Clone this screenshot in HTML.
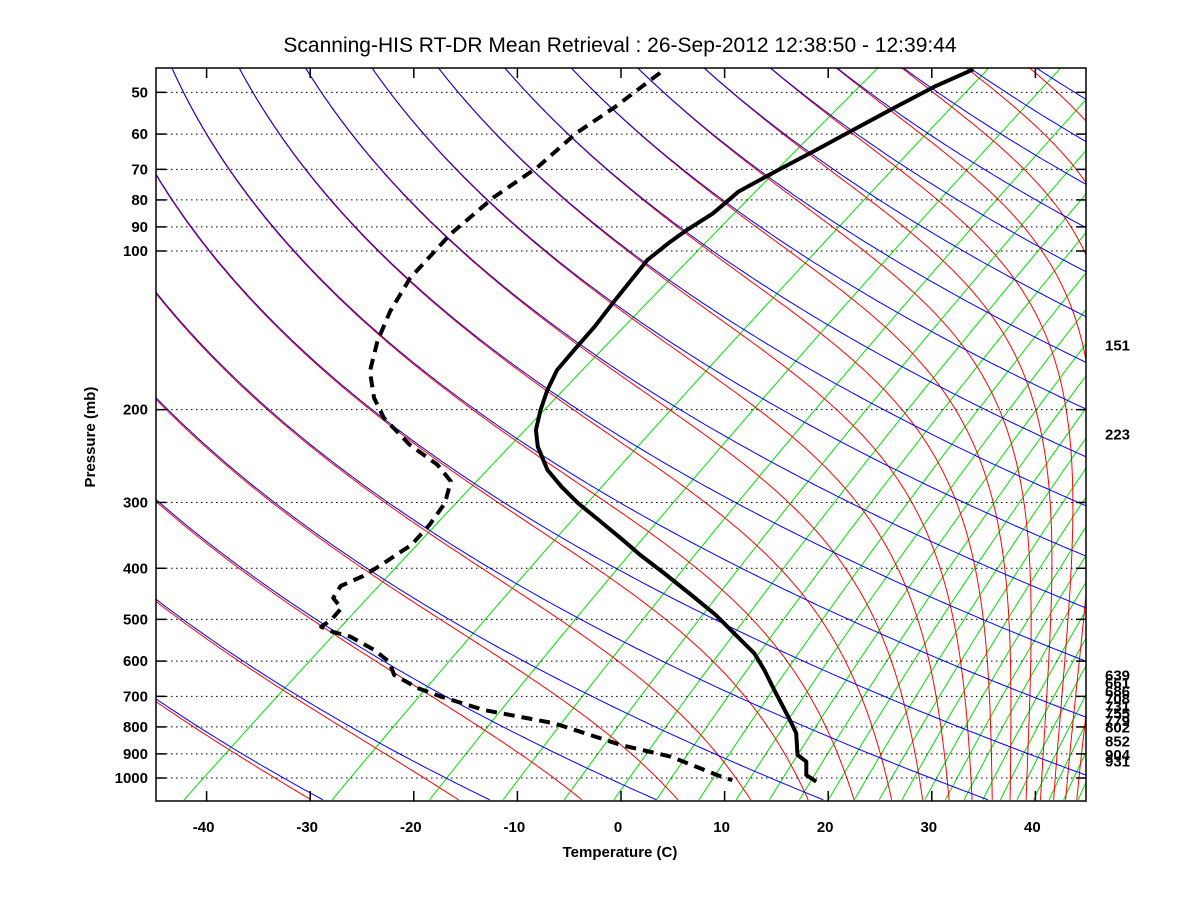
<!DOCTYPE html>
<html><head><meta charset="utf-8"><style>
html,body{margin:0;padding:0;background:#fff;}
svg{display:block;font-family:"Liberation Sans",Arial,sans-serif;}
.tk{font-weight:bold;font-size:15px;}
</style></head><body>
<svg id="chart" width="1200" height="900" viewBox="0 0 1200 900" xmlns="http://www.w3.org/2000/svg">
<rect x="0" y="0" width="1200" height="900" fill="#fff"/>
<defs><clipPath id="pc"><rect x="156" y="68" width="930" height="733"/></clipPath></defs>
<text x="620" y="52" text-anchor="middle" font-size="21">Scanning-HIS RT-DR Mean Retrieval : 26-Sep-2012 12:38:50 - 12:39:44</text>
<g id="grid" clip-path="url(#pc)"></g>
<g id="hgrid"></g>
<g id="series" clip-path="url(#pc)"></g>
<rect x="156" y="68" width="930" height="733" fill="none" stroke="#000" stroke-width="1.5"/>
<g id="axes"></g>
<text x="620" y="857" text-anchor="middle" class="tk" font-size="16">Temperature (C)</text>
<text x="95" y="437" text-anchor="middle" class="tk" transform="rotate(-90 95 437)">Pressure (mb)</text>
</svg>
<script>
// ---- data ----
const tempP = [45.2,48.6,53.3,58.5,64.3,70.7,77.2,84.8,91.2,96.7,104,113.5,123.9,139.2,154.2,168.2,183.6,200.4,218.7,235.2,260.4,280.2,301.1,323.9,351,377.6,406.6,449.5,490.6,547.3,580,624,681,770,822,904,931,987,1016];
const tempT = [-59.0,-60.5,-61.7,-62.8,-63.9,-65.1,-66.1,-65.8,-66.2,-66.3,-66.2,-65.2,-64.2,-62.8,-61.8,-60.9,-59.3,-57.4,-55.3,-53.0,-49.1,-45.6,-41.9,-37.8,-33.3,-29.3,-25.0,-19.3,-14.4,-8.8,-5.8,-2.7,0.8,5.8,8.4,11.3,13.0,14.7,16.5];
const dewP = [45.9,53.3,59.7,69.4,79.1,92.8,112.5,130.1,148.4,169.2,190.1,207.5,233.2,254.4,273.5,300.7,331.1,361.3,377.6,396,413.7,432.2,455.4,476.4,501.4,516.3,527.7,539.3,571.6,601.6,637.6,675.7,701,743,787.4,865.9,911,994,1009];
const dewT = [-88.8,-88.8,-89.2,-88.6,-89.0,-88.5,-86.8,-84.5,-81.9,-78.8,-75.0,-71.5,-65.6,-60.4,-57.0,-54.8,-53.5,-52.7,-52.9,-53.1,-53.4,-54.3,-53.5,-51.4,-50.9,-51.0,-49.3,-46.9,-42.9,-40.0,-37.8,-33.8,-30.5,-24.7,-16.2,-7.0,-0.7,6.7,8.2];
const pTicks = [50,60,70,80,90,100,200,300,400,500,600,700,800,900,1000];
const pTickLabels = ["50","60","70","80","90","100","200","300","400","500","600","700","800","900","1000"];
const tTicks = [-40,-30,-20,-10,0,10,20,30,40];
const sideLabels = [151,223,639,661,686,708,731,755,779,802,852,904,931];
const dryBottoms = [-126,-110,-93.6,-77.4,-61.2,-45,-28.8,-12.7,3.4,19.5,35.4,51.6,67.8,84,100,116,132,148,164,180,196,212,228,244,260,276,292,308,324,340,356,372,388,404,420];
const mixBottoms = [-42.2,-27.9,-18.5,-11.4,-5.5,-0.7,3.4,7.5,11.1,14.3,17.2,20,22.5,24.9,27.1,29.3,31.3,33.1,34.9,36.6,38.2,39.8,41.3,42.7,44.1];

// ---- axes functions ----
const X0=621, KX=10.36, SK=1.3188, PB=1100, PT=40;
function yP(p){return 251+527*(Math.log10(p)-2);}
function xTP(t,p){const y=yP(p);return X0+KX*t+SK*(800-y);}
const NS='http://www.w3.org/2000/svg';
function mk(tag,attrs,parent){const e=document.createElementNS(NS,tag);for(const k in attrs)e.setAttribute(k,attrs[k]);parent.appendChild(e);return e;}
function es(tc){return 6.112*Math.exp(17.67*tc/(tc+243.5));}
const grid=document.getElementById('grid');
const pLevels=[];for(let lp=Math.log(PB);lp>=Math.log(PT);lp-=0.01)pLevels.push(Math.exp(lp));

// mixing ratio lines (green)
mixBottoms.forEach(function(td0){
  const e0=es(td0);let d='';
  pLevels.forEach(function(p,i){const e=e0*p/PB;const l=Math.log(e/6.112);const td=243.5*l/(17.67-l);d+=(i?'L':'M')+xTP(td,p).toFixed(1)+','+yP(p).toFixed(1);});
  const el=mk('path',{d:d,fill:'none',stroke:'#00e000','stroke-width':1},grid);
  
  
});
// moist adiabats (red): integrate downward from top starting on each dry adiabat
const pDown=pLevels.slice().reverse();
dryBottoms.forEach(function(t0){
  let T=(t0+273.15)*Math.pow(pDown[0]/PB,0.286);let d='';
  for(let i=0;i<pDown.length;i++){
    const p=pDown[i];
    d+=(i?'L':'M')+xTP(T-273.15,p).toFixed(1)+','+yP(p).toFixed(1);
    if(i<pDown.length-1){
      const dlnp=Math.log(pDown[i+1]/p);
      const e=Math.min(es(T-273.15),p*0.5);const rs=0.622*e/(p-e);
      const g=(287*T+2.5e6*rs)/(1004+2.5e6*2.5e6*rs*0.622/(287*T*T));
      T+=g*dlnp;
    }
  }
  const el=mk('path',{d:d,fill:'none',stroke:'#ff0000','stroke-width':1},grid);
  
  
});
// dry adiabats (blue)
dryBottoms.forEach(function(t0){
  const T0=t0+273.15;let d='';
  pLevels.forEach(function(p,i){const t=T0*Math.pow(p/PB,0.286)-273.15;d+=(i?'L':'M')+xTP(t,p).toFixed(1)+','+yP(p).toFixed(1);});
  const el=mk('path',{d:d,fill:'none',stroke:'#0000ff','stroke-width':1},grid);
  
  
});

// horizontal dotted pressure lines + y ticks
const hg=document.getElementById('hgrid'),ax=document.getElementById('axes');
pTicks.forEach(function(p,i){
  const y=yP(p);
  const l=mk('line',{x1:156,x2:1086,y1:y,y2:y,stroke:'#000','stroke-width':1,'stroke-dasharray':'1.5,3.5'},hg);
  
  
  mk('line',{x1:156,x2:166,y1:y,y2:y,stroke:'#000','stroke-width':1.5},ax);
  mk('line',{x1:1076,x2:1086,y1:y,y2:y,stroke:'#000','stroke-width':1.5},ax);
  const t=mk('text',{x:148,y:y+5,'text-anchor':'end','class':'tk'},ax);
  t.textContent=pTickLabels[i];
  
  
});
tTicks.forEach(function(tv){
  const x=X0+KX*tv;
  mk('line',{x1:x,x2:x,y1:801,y2:791,stroke:'#000','stroke-width':1.5},ax);
  mk('line',{x1:x,x2:x,y1:68,y2:78,stroke:'#000','stroke-width':1.5},ax);
  const t=mk('text',{x:x-3,y:832,'text-anchor':'middle','class':'tk'},ax);
  t.textContent=String(tv);
  
  
});
sideLabels.forEach(function(p){
  const t=mk('text',{x:1105,y:yP(p)+5,'class':'tk'},ax);
  t.textContent=String(p);
  
  
});

// profiles
const sg=document.getElementById('series');
function prof(P,T){let d='';P.forEach(function(p,i){d+=(i?'L':'M')+xTP(T[i],p).toFixed(1)+','+yP(p).toFixed(1);});return d;}
const dew=mk('path',{d:prof(dewP,dewT),fill:'none',stroke:'#000','stroke-width':4,'stroke-dasharray':'11,7','stroke-linejoin':'round'},sg);


const tmp=mk('path',{d:prof(tempP,tempT),fill:'none',stroke:'#000','stroke-width':4,'stroke-linejoin':'round'},sg);


</script>
</body></html>
